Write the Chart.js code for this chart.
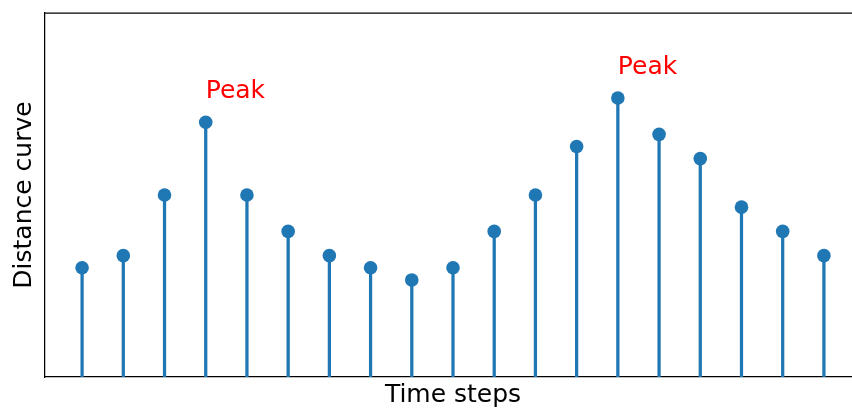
<!DOCTYPE html>
<html>
<head>
<meta charset="utf-8">
<script src="https://cdn.jsdelivr.net/npm/chart.js@4.4.1/dist/chart.umd.min.js"></script>
<style>
  html, body { margin: 0; padding: 0; background: #fff; overflow: hidden; }
  #wrap { width: 852px; height: 408px; overflow: hidden; }
</style>
</head>
<body>
<div id="wrap"><canvas id="grafico" width="862" height="408"></canvas></div>
<script>
// dati
var passi = [0, 1, 2, 3, 4, 5, 6, 7, 8, 9, 10, 11, 12, 13, 14, 15, 16, 17, 18];
var distanza = [9, 10, 15, 21, 15, 12, 10, 9, 8, 9, 12, 15, 19, 23, 20, 18, 14, 12, 10];
var picchi = [3, 13];
var etichettaPicco = 'Peak';

var blu = '#1f77b4';
var font = 'DejaVu Sans';

var punti = passi.map(function(p, i) { return { x: p, y: distanza[i] }; });

// bordo superiore/destro + etichette dei picchi
var extra = {
  id: 'extra',
  afterDatasetsDraw: function(chart) {
    var ctx = chart.ctx;
    var area = chart.chartArea;
    var sx = chart.scales.x, sy = chart.scales.y;
    ctx.save();
    ctx.strokeStyle = '#000';
    ctx.lineWidth = 1.25;
    ctx.beginPath();
    ctx.moveTo(area.left - 0.6, area.top);
    ctx.lineTo(area.right, area.top);
    ctx.lineTo(area.right, area.bottom);
    ctx.stroke();

    ctx.fillStyle = '#ff0000';
    ctx.font = '25px "' + font + '"';
    ctx.textAlign = 'left';
    ctx.textBaseline = 'alphabetic';
    picchi.forEach(function(i) {
      ctx.fillText(etichettaPicco, sx.getPixelForValue(passi[i]), sy.getPixelForValue(distanza[i] + 2));
    });
    ctx.restore();
  }
};

var chart = new Chart(document.getElementById('grafico'), {
  type: 'bar',
  data: {
    datasets: [{
      type: 'scatter',
      data: punti,
      backgroundColor: blu,
      borderColor: blu,
      pointRadius: 6.8,
      pointHoverRadius: 6.8,
      borderWidth: 0,
      clip: false,
      order: 0
    }, {
      type: 'bar',
      data: punti,
      backgroundColor: blu,
      barThickness: 2.6,
      order: 1
    }]
  },
  options: {
    responsive: false,
    animation: false,
    events: [],
    layout: { autoPadding: false, padding: { top: 13, right: 1, left: 0, bottom: 0 } },
    plugins: { legend: { display: false }, tooltip: { enabled: false } },
    scales: {
      x: {
        type: 'linear',
        min: -0.9,
        max: 18.9,
        offset: false,
        grid: { display: false },
        border: { display: true, color: '#000', width: 1.25 },
        ticks: { display: false },
        title: { display: true, text: 'Time steps', color: '#000', font: { family: font, size: 25, lineHeight: 1 }, padding: 0 },
        afterFit: function(scale) { scale.height = 31; }
      },
      y: {
        min: 0,
        max: 30,
        grid: { display: false },
        border: { display: true, color: '#000', width: 1.25 },
        ticks: { display: false },
        title: { display: true, text: 'Distance curve', color: '#000', font: { family: font, size: 25, lineHeight: 1 }, padding: { top: 12, bottom: 0 } },
        afterFit: function(scale) { scale.width = 45; }
      }
    }
  },
  plugins: [extra]
});
</script>
</body>
</html>
